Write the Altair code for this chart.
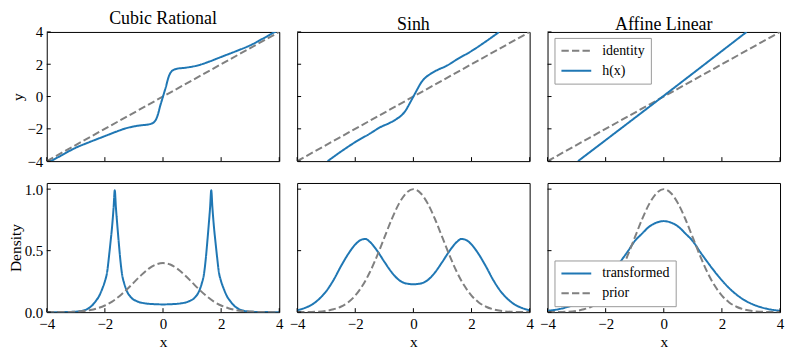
import altair as alt
import pandas as pd

FONT = "Liberation Serif"
BLUE = "#1f77b4"
GRAY = "#808080"
W, H = 234, 130

panel_titles = ["Cubic Rational", "Sinh", "Affine Linear"]
x_ticks = [-4, -2, 0, 2, 4]
y_ticks_top = [-4, -2, 0, 2, 4]
y_ticks_bottom = [0.0, 0.5, 1.0]

# ---------------- top row: h(x) against identity ----------------
identity_x = [-4, 4]
identity_y = [-4, 4]

cubic_x = [-4.0, -3.5, -3.0, -2.5, -2.0, -1.6, -1.3, -1.0, -0.7, -0.5, -0.4, -0.3, -0.25,
           -0.2, -0.15, -0.1, -0.05, 0.0, 0.05, 0.1, 0.15, 0.2, 0.25, 0.3, 0.4, 0.5, 0.7,
           1.0, 1.3, 1.6, 2.0, 2.5, 3.0, 3.5, 4.0]
cubic_h = [-4.15, -3.65, -3.17, -2.8, -2.45, -2.17, -1.98, -1.85, -1.77, -1.73, -1.68, -1.57,
           -1.45, -1.25, -0.95, -0.6, -0.3, 0.0, 0.3, 0.6, 0.95, 1.25, 1.45, 1.57, 1.68, 1.73,
           1.77, 1.85, 1.98, 2.17, 2.45, 2.8, 3.17, 3.65, 4.15]

sinh_x = [-2.95, -2.5, -2.0, -1.5, -1.14, -0.8, -0.57, -0.4, -0.28, -0.12, 0.0,
          0.12, 0.28, 0.4, 0.57, 0.8, 1.14, 1.5, 2.0, 2.5, 2.95]
sinh_h = [-4.0, -3.42, -2.82, -2.3, -1.9, -1.62, -1.38, -1.15, -0.9, -0.4, 0.0,
          0.4, 0.9, 1.15, 1.38, 1.62, 1.9, 2.3, 2.82, 3.42, 4.0]

affine_x = [-2.95, 0.0, 2.85]
affine_h = [-4.0, 0.05, 4.0]

# ---------------- bottom row: densities ----------------
grid_x = [-4.0, -3.5, -3.0, -2.75, -2.5, -2.25, -2.0, -1.75, -1.5, -1.25, -1.0, -0.75, -0.5,
          -0.25, 0.0, 0.25, 0.5, 0.75, 1.0, 1.25, 1.5, 1.75, 2.0, 2.25, 2.5, 2.75, 3.0, 3.5, 4.0]

prior_std = [0.0001, 0.0009, 0.0044, 0.009, 0.0175, 0.032, 0.054, 0.086, 0.13, 0.183, 0.242,
             0.301, 0.352, 0.387, 0.399, 0.387, 0.352, 0.301, 0.242, 0.183, 0.13, 0.086, 0.054,
             0.032, 0.0175, 0.009, 0.0044, 0.0009, 0.0001]

prior_wide = [0.0003, 0.002, 0.011, 0.023, 0.044, 0.079, 0.135, 0.216, 0.324, 0.457, 0.605,
              0.753, 0.88, 0.967, 1.0, 0.967, 0.88, 0.753, 0.605, 0.457, 0.324, 0.216, 0.135,
              0.079, 0.044, 0.023, 0.011, 0.002, 0.0003]

cubic_dens_x = [-4.0, -3.5, -3.0, -2.8, -2.61, -2.46, -2.32, -2.2, -2.09, -2.0, -1.92, -1.86,
                -1.81, -1.75, -1.7, -1.66, -1.62, -1.57, -1.52, -1.47, -1.41, -1.33, -1.24,
                -1.1, -0.89, -0.6, -0.3, 0.0, 0.3, 0.6, 0.89, 1.1, 1.24, 1.33, 1.41, 1.47,
                1.52, 1.57, 1.62, 1.66, 1.7, 1.75, 1.81, 1.86, 1.92, 2.0, 2.09, 2.2, 2.32,
                2.46, 2.61, 2.8, 3.0, 3.5, 4.0]
cubic_dens = [0.0, 0.0005, 0.004, 0.01, 0.025, 0.05, 0.088, 0.13, 0.19, 0.25, 0.33, 0.45,
              0.56, 0.7, 0.85, 0.99, 0.85, 0.7, 0.56, 0.43, 0.31, 0.23, 0.17, 0.12, 0.088,
              0.071, 0.065, 0.063, 0.065, 0.071, 0.088, 0.12, 0.17, 0.23, 0.31, 0.43, 0.56,
              0.7, 0.85, 0.99, 0.85, 0.7, 0.56, 0.45, 0.33, 0.25, 0.19, 0.13, 0.088, 0.05,
              0.025, 0.01, 0.004, 0.0005, 0.0]

sinh_dens_x = [-4.0, -3.75, -3.5, -3.25, -3.0, -2.75, -2.5, -2.25, -2.0, -1.8, -1.65, -1.5,
               -1.25, -1.0, -0.75, -0.5, -0.25, 0.0, 0.25, 0.5, 0.75, 1.0, 1.25, 1.5, 1.65,
               1.8, 2.0, 2.25, 2.5, 2.75, 3.0, 3.25, 3.5, 3.75, 4.0]
sinh_dens = [0.015, 0.033, 0.06, 0.105, 0.17, 0.26, 0.37, 0.47, 0.55, 0.588, 0.595, 0.572,
             0.5, 0.41, 0.325, 0.262, 0.233, 0.227, 0.233, 0.262, 0.325, 0.41, 0.5, 0.572,
             0.595, 0.588, 0.55, 0.47, 0.37, 0.26, 0.17, 0.105, 0.06, 0.033, 0.015]

affine_dens = [0.011, 0.03, 0.07, 0.101, 0.143, 0.195, 0.258, 0.33, 0.408, 0.49, 0.577, 0.638,
               0.695, 0.728, 0.74, 0.728, 0.695, 0.638, 0.577, 0.49, 0.408, 0.33, 0.258, 0.195,
               0.143, 0.101, 0.07, 0.03, 0.011]

DASH = [7.4, 3.2]
SOLID = [1, 0]


def frame(xs, ys, name):
    return pd.DataFrame({"x": xs, "y": ys, "s": name})


def panel(row, col, series, names, colors, dashes, legend):
    ydom = [-4, 4] if row == 0 else [0, 1.05]
    yvals = y_ticks_top if row == 0 else y_ticks_bottom
    if row == 1:
        xaxis = alt.Axis(values=x_ticks, format="d", title="x", labelFlush=False,
                         labelOverlap=False, labelFont=FONT, titleFont=FONT)
    else:
        xaxis = None
    if col == 0:
        yaxis = alt.Axis(values=yvals, format="d" if row == 0 else ".1f",
                         title="y" if row == 0 else "Density", labelFlush=False,
                         labelOverlap=False, labelFont=FONT, titleFont=FONT)
    else:
        yaxis = None
    xenc = alt.X("x:Q", scale=alt.Scale(domain=[-4, 4], nice=False, zero=False), axis=xaxis)
    yenc = alt.Y("y:Q", scale=alt.Scale(domain=ydom, nice=False, zero=False), axis=yaxis)
    cenc = alt.Color("s:N", scale=alt.Scale(domain=names, range=colors), legend=legend)
    denc = alt.StrokeDash("s:N", scale=alt.Scale(domain=names, range=dashes), legend=legend)
    layers = []
    for df in series:
        layers.append(
            alt.Chart(df).mark_line(strokeWidth=2, clip=True, interpolate="monotone")
            .encode(x=xenc, y=yenc, color=cenc, strokeDash=denc)
        )
    xt = alt.Chart(pd.DataFrame({"x": x_ticks})).mark_rule(color="black", strokeWidth=1).encode(
        x=xenc, y=alt.value(H), y2=alt.value(H - 4))
    yt = alt.Chart(pd.DataFrame({"y": yvals})).mark_rule(color="black", strokeWidth=1).encode(
        y=yenc, x=alt.value(0), x2=alt.value(4))
    ch = alt.layer(*layers, xt, yt).properties(width=W, height=H)
    if row == 0:
        ch = ch.properties(title=alt.TitleParams(
            text=panel_titles[col], font=FONT, fontSize=18, fontWeight="normal",
            color="black", frame="group", anchor="middle", offset=-3))
    return ch


def legend_at(y):
    return alt.Legend(orient="none", legendX=7, legendY=y, direction="vertical", title=None,
                      symbolType="stroke", symbolSize=900, symbolStrokeWidth=2, clipHeight=14,
                      labelFont=FONT, labelFontSize=14, labelColor="black",
                      fillColor="white", strokeColor="#999999", padding=6, rowPadding=6,
                      labelOffset=10, cornerRadius=0)


top_names = ["identity", "h(x)"]
top_colors = [GRAY, BLUE]
top_dashes = [DASH, SOLID]
bot_names = ["transformed", "prior"]
bot_colors = [BLUE, GRAY]
bot_dashes = [SOLID, DASH]

ident = frame(identity_x, identity_y, "identity")
panels = [
    panel(0, 0, [ident, frame(cubic_x, cubic_h, "h(x)")], top_names, top_colors, top_dashes, None),
    panel(0, 1, [ident, frame(sinh_x, sinh_h, "h(x)")], top_names, top_colors, top_dashes, None),
    panel(0, 2, [ident, frame(affine_x, affine_h, "h(x)")], top_names, top_colors, top_dashes,
          legend_at(6)),
    panel(1, 0, [frame(cubic_dens_x, cubic_dens, "transformed"), frame(grid_x, prior_std, "prior")],
          bot_names, bot_colors, bot_dashes, None),
    panel(1, 1, [frame(sinh_dens_x, sinh_dens, "transformed"), frame(grid_x, prior_wide, "prior")],
          bot_names, bot_colors, bot_dashes, None),
    panel(1, 2, [frame(grid_x, affine_dens, "transformed"), frame(grid_x, prior_wide, "prior")],
          bot_names, bot_colors, bot_dashes, legend_at(H - 52)),
]

chart = (
    alt.concat(*panels, columns=3, spacing={"row": 22, "column": 18}, bounds="flush")
    .resolve_scale(color="independent", strokeDash="independent")
    .properties(padding={"left": -1, "top": 0, "right": 0, "bottom": 0})
    .configure_view(stroke="black", strokeWidth=1)
    .configure_axis(labelFont=FONT, labelFontSize=15, titleFont=FONT, titleFontSize=15.5,
                    titleFontWeight="normal", labelColor="black", titleColor="black",
                    ticks=False, domain=False, grid=False, labelPadding=4)
    .configure_axisY(titlePadding=1)
    .configure_axisX(titlePadding=4)
)

chart.save("out.html", embed_options={"renderer": "svg", "actions": False})
